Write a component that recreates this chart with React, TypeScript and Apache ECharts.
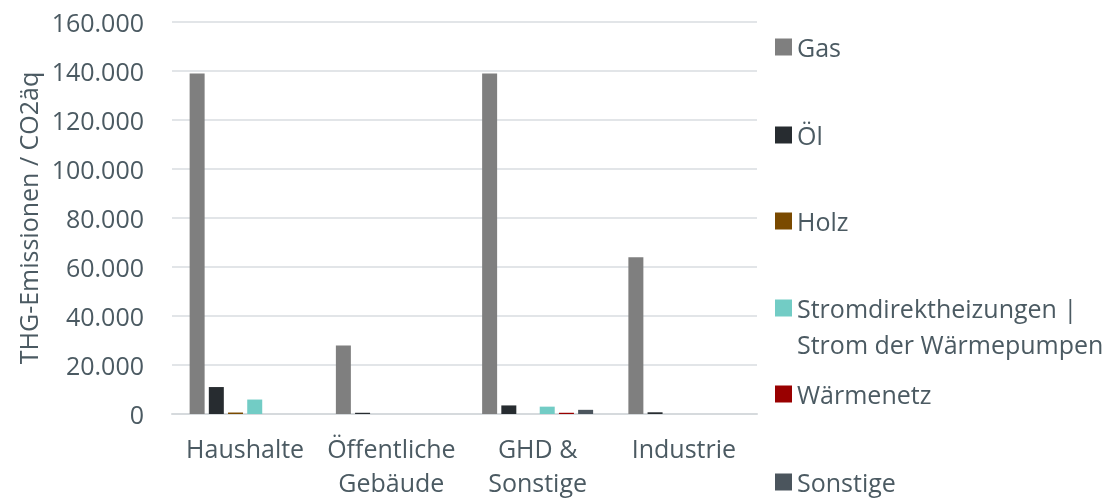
import React, { useEffect, useRef } from "react";
import * as echarts from "echarts";

const categories = ["Haushalte", "Öffentliche\nGebäude", "GHD &\nSonstige", "Industrie"];
const seriesNames = ["Gas", "Öl", "Holz", "Stromdirektheizungen |", "Wärmenetz", "Sonstige"];
const gasValues = [139000, 28000, 139000, 64000];
const oelValues = [11000, 500, 3500, 700];
const holzValues = [600, 0, 0, 0];
const stromValues = [5900, 0, 3000, 0];
const waermenetzValues = [0, 0, 500, 0];
const sonstigeValues = [0, 0, 1700, 0];
const seriesColors = ["#7F7F7F", "#272C30", "#7A4A00", "#72CCC5", "#990000", "#4B555D"];
const legendCenters = [47, 135, 221, 308, 394, 482];

const TEXT = "#4B5A62";
const FONT = "Open Sans";

export default function App() {
  const ref = useRef<HTMLDivElement>(null);
  useEffect(() => {
    if (!ref.current) return;
    const chart = echarts.init(ref.current, null, { renderer: "svg" });
    const values = [gasValues, oelValues, holzValues, stromValues, waermenetzValues, sonstigeValues];
    const fmt = (v: number) => String(v).replace(/\B(?=(\d{3})+(?!\d))/g, ".");
    chart.setOption({
      animation: false,
      textStyle: { fontFamily: FONT },
      grid: { left: 172, right: 359, top: 22, bottom: 86, outerBoundsMode: "none", containLabel: false },
      xAxis: {
        type: "category",
        data: categories,
        axisLine: { lineStyle: { color: "#D6DADD", width: 2 } },
        axisTick: { show: false },
        axisLabel: { color: TEXT, fontSize: 25, lineHeight: 34, margin: 17, fontFamily: FONT, interval: 0 },
      },
      yAxis: {
        type: "value",
        min: 0,
        max: 160000,
        interval: 20000,
        name: "THG-Emissionen / CO2äq",
        nameLocation: "middle",
        nameGap: 126,
        nameTextStyle: { color: TEXT, fontSize: 25, fontFamily: FONT },
        axisLine: { show: false },
        axisTick: { show: false },
        axisLabel: { color: TEXT, fontSize: 25, margin: 28, fontFamily: FONT, formatter: fmt },
        splitLine: { lineStyle: { color: "#D9DDE0", width: 1.5 } },
      },
      legend: seriesNames.map((n, i) => ({
        data: [n],
        orient: "vertical",
        left: 775,
        top: legendCenters[i] - 15,
        padding: 0,
        itemWidth: 17,
        itemHeight: 17,
        icon: "rect",
        selectedMode: false,
        textStyle: { color: TEXT, fontSize: 25, lineHeight: 30, fontFamily: FONT },
      })),
      graphic: [
        {
          type: "text",
          left: 797,
          top: 344 - 15,
          style: { text: "Strom der Wärmepumpen", fill: TEXT, font: `25px "${FONT}"`, lineHeight: 30 },
        },
      ],
      series: seriesNames.map((n, i) => ({
        name: n,
        type: "bar",
        data: values[i],
        barWidth: 15,
        barGap: "28%",
        itemStyle: { color: seriesColors[i] },
      })),
    });
    return () => chart.dispose();
  }, []);
  return <div ref={ref} style={{ position: "fixed", left: 0, top: 0, width: 1116, height: 500 }} />;
}
